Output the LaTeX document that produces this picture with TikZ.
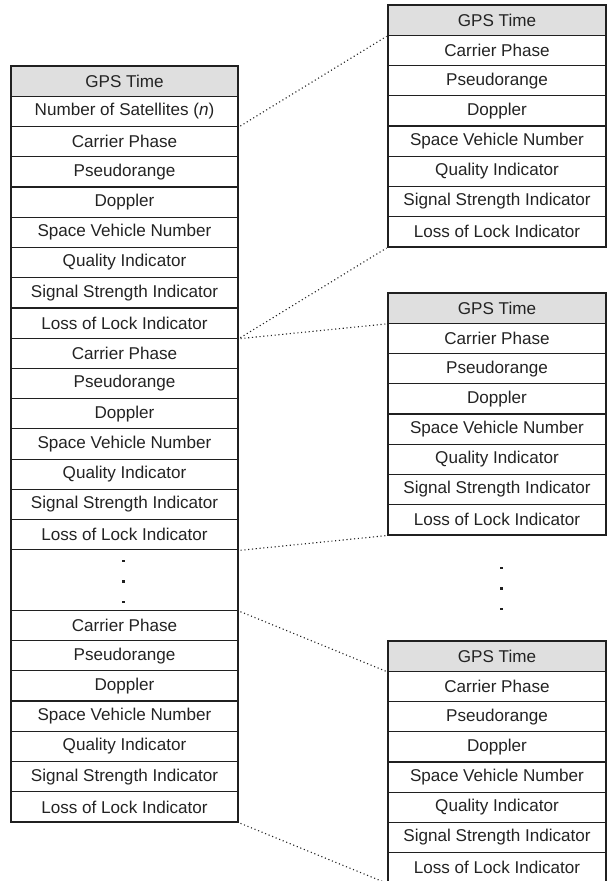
\documentclass[tikz,border=0pt]{standalone}
\usepackage{fontspec}
\setmainfont{Liberation Sans}
\definecolor{hdrgray}{RGB}{223,223,223}
\definecolor{edge}{RGB}{32,32,32}
\definecolor{ink}{RGB}{35,35,35}
\tikzset{
  cell/.style={rectangle, draw=edge, line width=1.2pt, inner sep=0pt,
    minimum height=30.24pt, text=ink, font=\fontsize{17.1}{20}\selectfont},
  leftcell/.style={cell, minimum width=227pt},
  rightcell/.style={cell, minimum width=218pt},
  header/.style={fill=hdrgray},
  link/.style={draw=edge, line width=1.1pt, dash pattern=on 1.1pt off 2.7pt,
    shorten <=2pt, shorten >=1pt},
  ellipsisdot/.style={rectangle, fill=edge, minimum size=2.4pt, inner sep=0pt}
}
\def\fieldlist{Carrier Phase, Pseudorange, Doppler, Space Vehicle Number,
  Quality Indicator, Signal Strength Indicator, Loss of Lock Indicator}
\begin{document}
\begin{tikzpicture}[x=1pt, y=-1pt]
\useasboundingbox (0,0) rectangle (607,881);

% message record: header, satellite count, then one block per satellite
\node[leftcell, header] (L0) at (124.5, {66+0.5*30.24}) {GPS Time};
\node[leftcell] (L1) at (124.5, {66+1.5*30.24}) {Number of Satellites (\textit{n})};
\foreach \t [count=\k from 2] in \fieldlist
  \node[leftcell] (L\k) at (124.5, {66+(\k+0.5)*30.24}) {\t};
\foreach \t [count=\k from 9] in \fieldlist
  \node[leftcell] (L\k) at (124.5, {66+(\k+0.5)*30.24}) {\t};
\node[leftcell, minimum height=60.48pt] (Lgap) at (124.5, {66+17*30.24}) {};
\foreach \t [count=\k from 18] in \fieldlist
  \node[leftcell] (L\k) at (124.5, {66+(\k+0.5)*30.24}) {\t};

% vertical ellipsis inside the record
\node[ellipsisdot] (ld1) at (123.5, 560.7) {};
\node[ellipsisdot] (ld2) at (123.5, 581.4) {};
\node[ellipsisdot] (ld3) at (123.5, 602.0) {};

% per-satellite records
\foreach \bx/\top in {A/5, B/293, C/641} {
  \node[rightcell, header] (\bx0) at (497, {\top+0.5*30.24}) {GPS Time};
  \foreach \t [count=\k] in \fieldlist
    \node[rightcell] (\bx\k) at (497, {\top+(\k+0.5)*30.24}) {\t};
}

% vertical ellipsis between per-satellite records
\node[ellipsisdot] (rd1) at (501.5, 568) {};
\node[ellipsisdot] (rd2) at (501.5, 588.6) {};
\node[ellipsisdot] (rd3) at (501.5, 609.2) {};

% dotted guides from each satellite block to its record
\draw[link] (L1.south east) -- (A0.south west);
\draw[link] (L8.south east) -- (A7.south west);
\draw[link] (L8.south east) -- (B0.south west);
\draw[link] (L15.south east) -- (B7.south west);
\draw[link] (Lgap.south east) -- (C0.south west);
\draw[link] (L24.south east) -- (C7.south west);
\end{tikzpicture}
\end{document}
